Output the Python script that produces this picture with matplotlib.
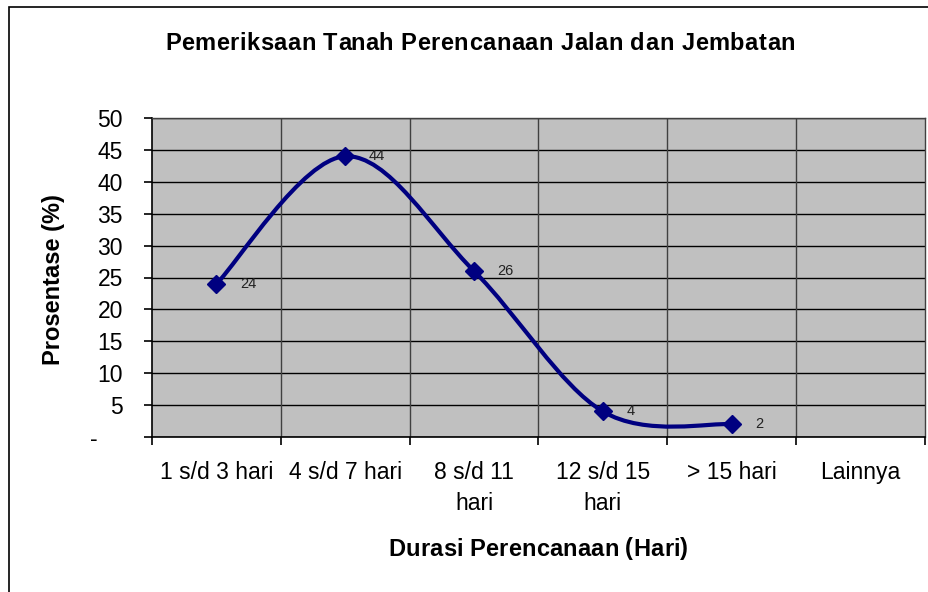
import numpy as np
import matplotlib.pyplot as plt
from matplotlib.path import Path
from matplotlib.patches import PathPatch, Rectangle

# data
categories = ["1 s/d 3 hari", "4 s/d 7 hari", "8 s/d 11\nhari",
              "12 s/d 15\nhari", "> 15 hari", "Lainnya"]
values = [24, 44, 26, 4, 2]
y_ticks = [0, 5, 10, 15, 20, 25, 30, 35, 40, 45, 50]
y_tick_labels = ["-    "] + [str(v) for v in y_ticks[1:]]
title = "Pemeriksaan Tanah Perencanaan Jalan dan Jembatan"

plt.rcParams['font.family'] = ['Liberation Sans', 'DejaVu Sans']

W, H = 929, 592
fig = plt.figure(figsize=(W / 100, H / 100), dpi=100)
ax = fig.add_axes([152 / W, 1 - 437 / H, 773 / W, 319 / H])
ax.set_facecolor('#C0C0C0')

# outer chart border (only left/top visible in the reference)
fig.add_artist(Rectangle((9 / W, -0.1), 1.2, 1 - 6.5 / H + 0.1,
                         transform=fig.transFigure, fill=False,
                         edgecolor='black', linewidth=1.2))

ax.set_xlim(-0.5, len(categories) - 0.5)
ax.set_ylim(0, 50)

# gridlines
ax.set_yticks(y_ticks)
ax.set_yticklabels(y_tick_labels, fontsize=16.5)
ax.yaxis.grid(True, color='black', linewidth=1.0)
xb = np.arange(-0.5, len(categories), 1)
for b in xb[1:-1]:
    ax.axvline(b, color='#404040', linewidth=1.0, zorder=1)
ax.set_axisbelow(True)

ax.set_xticks(xb)
ax.set_xticklabels([])
ax.set_xticks(np.arange(len(categories)), minor=True)
ax.set_xticklabels(categories, minor=True, fontsize=16.5, linespacing=1.45,
                   va='top')
ax.tick_params(axis='x', which='minor', length=0, pad=17)
ax.tick_params(axis='x', which='major', length=6, width=1.2, direction='out')
ax.tick_params(axis='y', length=6, width=1.2, direction='out', pad=15)

for side in ['top', 'right']:
    ax.spines[side].set_color('#404040')
    ax.spines[side].set_linewidth(1.0)
ax.spines['left'].set_linewidth(1.2)
ax.spines['bottom'].set_linewidth(1.2)

# smoothed line (Excel-style cubic bezier through the points)
xs = np.arange(len(values), dtype=float)
pts = np.column_stack([xs, np.array(values, dtype=float)])
n = len(pts)
verts = [tuple(pts[0])]
codes = [Path.MOVETO]
for i in range(n - 1):
    p0 = pts[max(i - 1, 0)]
    p1 = pts[i]
    p2 = pts[i + 1]
    p3 = pts[min(i + 2, n - 1)]
    c1 = p1 + (p2 - p0) / 6.0
    c2 = p2 - (p3 - p1) / 6.0
    verts += [tuple(c1), tuple(c2), tuple(p2)]
    codes += [Path.CURVE4] * 3
ax.add_patch(PathPatch(Path(verts, codes), facecolor='none',
                       edgecolor='#000080', linewidth=3.0, zorder=3,
                       capstyle='round', joinstyle='round'))
ax.plot(xs, values, linestyle='none', marker='D', markersize=9,
        color='#000080', zorder=4)

for x, v in zip(xs, values):
    ax.annotate(str(v), (x, v), xytext=(17, 0), textcoords='offset points',
                fontsize=10.5, va='center', ha='left', color='#222222')


def spaced_text(s, x0, x1, y, **kw):
    # letter-spaced text spread from x0 to x1 (pixels), like the Excel title
    r = fig.canvas.get_renderer()

    def width(t):
        a = fig.text(0, 0, t + "|", **kw)
        b = fig.text(0, 0, "|", **kw)
        w = a.get_window_extent(r).width - b.get_window_extent(r).width
        a.remove()
        b.remove()
        return w

    total = width(s)
    gap = (x1 - x0 - total) / (len(s) - 1)
    for i, ch in enumerate(s):
        if ch == " ":
            continue
        px = x0 + width(s[:i]) + i * gap
        fig.text(px / W, 1 - y / H, ch, ha='left', va='center', **kw)


spaced_text(title, 165, 795, 44, fontsize=17, fontweight='bold')
fig.text(54 / W, 1 - 280 / H, "Prosentase (%)", fontsize=17,
         fontweight='bold', rotation=90, ha='center', va='center')
spaced_text("Durasi Perencanaan (Hari)", 388, 688, 549, fontsize=17,
            fontweight='bold')

fig.savefig("out.png", dpi=100)
